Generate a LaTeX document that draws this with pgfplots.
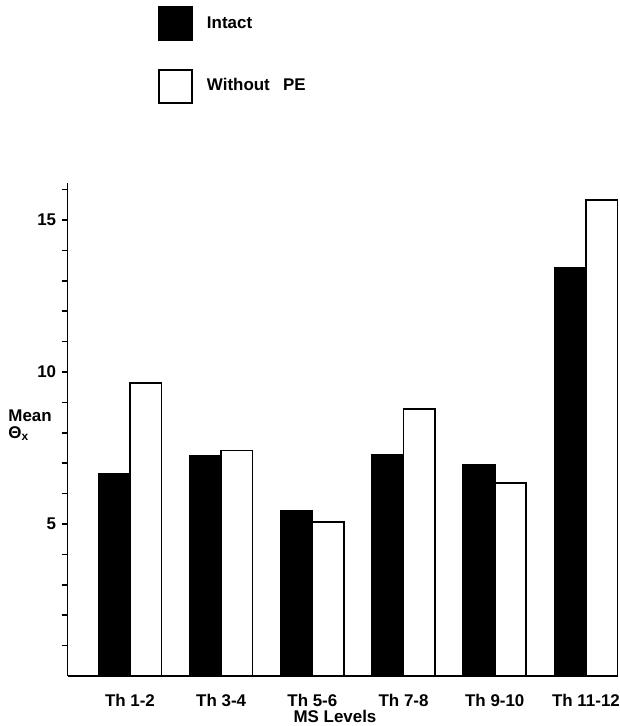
\documentclass[border=0pt]{standalone}
\usepackage{fontspec}
\setmainfont{Liberation Sans}
\usepackage{pgfplots}
\pgfplotsset{compat=1.18}
\begin{document}
\begin{tikzpicture}
\path[use as bounding box] (0,0) rectangle (310bp,363bp);
\begin{axis}[
  at={(33.75bp,25bp)}, anchor=south west,
  scale only axis,
  width=275.2bp, height=246.5bp,
  xmin=-0.685, xmax=5.35,
  ymin=0, ymax=16.22,
  axis x line=bottom, axis y line=left,
  axis line style={-, line width=0.8bp},
  ybar=0pt, bar width=15.75bp,
  xtick={0,1,2,3,4,5},
  xticklabels={Th 1-2, Th 3-4, Th 5-6, Th 7-8, Th 9-10, Th 11-12},
  x tick style={draw=none},
  ytick={5,10,15},
  minor ytick={1,2,3,4,6,7,8,9,11,12,13,14,16},
  tick align=outside,
  major tick length=3bp, minor tick length=3bp,
  y tick style={line width=0.8bp, black},
  /pgf/number format/assume math mode=true,
  tick label style={font=\fontsize{8.5}{10}\selectfont\bfseries, inner sep=0pt},
  xticklabel style={yshift=-6bp},
  yticklabel style={xshift=-2.5bp},
  xlabel={MS Levels},
  xlabel style={at={(axis description cs:0.486,0)}, anchor=north, yshift=-17bp, inner sep=0pt, font=\fontsize{8.5}{10}\selectfont\bfseries},
  ylabel={Mean\\Θ\textsubscript{x}},
  every axis y label/.style={at={(axis description cs:-0.108,0.5416)}, anchor=north west, align=left, inner sep=0pt, font=\fontsize{8.5}{9}\selectfont\bfseries},
  legend image code/.code={\draw[#1, line width=0.8bp] (0bp,-8.25bp) rectangle (16.5bp,8.25bp);},
  legend style={at={(axis description cs:0.1644,1.359)}, anchor=north west, draw=none, fill=none, inner sep=0pt, row sep=14bp, column sep=7bp, font=\fontsize{8.5}{10}\selectfont\bfseries, nodes={inner sep=0pt}},
  legend cell align=left,
]
\addplot[fill=black, draw=black, line width=0.8bp] coordinates {
  (0,6.65) (1,7.26) (2,5.45) (3,7.28) (4,6.95) (5,13.43)
};
\addplot[fill=white, draw=black, line width=0.8bp] coordinates {
  (0,9.64) (1,7.42) (2,5.07) (3,8.79) (4,6.35) (5,15.67)
};
\legend{Intact, Without\hspace{0.78em}PE}
\end{axis}
\end{tikzpicture}
\end{document}
